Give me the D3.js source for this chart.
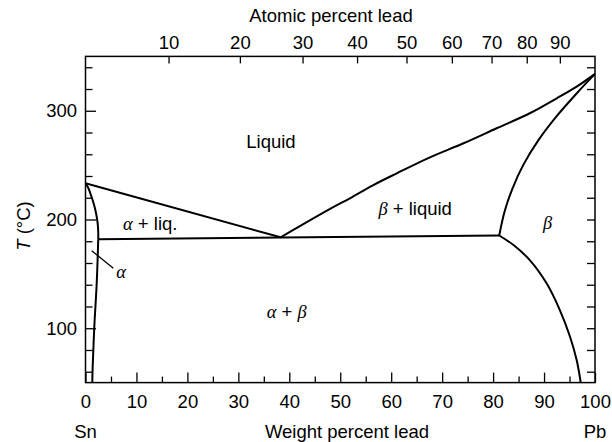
<!DOCTYPE html>
<html>
<head>
<meta charset="utf-8">
<script src="https://cdn.jsdelivr.net/npm/d3@7"></script>
<style>
  html, body { margin: 0; padding: 0; background: #fff; }
  svg { display: block; }
  text { font-family: "Liberation Sans", Arial, Helvetica, sans-serif; fill: #000; }
  .greek { font-family: "Liberation Serif", "Times New Roman", serif; font-style: italic; }
</style>
</head>
<body>
<svg id="chart" width="612" height="442"></svg>
<script>
// Sn–Pb phase diagram: temperature (°C) against composition (wt% Pb)

// phase boundaries, [wt% Pb, T °C]
const liquidusSn = [[0, 233.3], [38.3, 183.6]];
const liquidusPb = [[38.3, 183.6], [48.0, 209.7], [51.9, 219.5], [56.5, 231.7], [61.1, 242.5],
  [67.6, 257.2], [74.2, 270.1], [80.7, 283.9], [87.2, 297.7], [92.5, 311.5], [96.4, 322.2], [100, 333.9]];
const solidusAlpha = [[0, 233.3], [0.55, 229], [1.1, 222], [1.65, 214], [2.1, 205], [2.4, 196], [2.5, 188], [2.5, 181.8]];
const solvusAlpha = [[2.5, 181.8], [2.2, 141.3], [1.73, 101.4], [1.41, 64.6], [1.33, 50]];
const solidusBeta = [[81.2, 185.3], [82.3, 208], [83.8, 228.5], [85.9, 250], [88.9, 273], [92.4, 294.6], [96.8, 318], [100, 333.9]];
const solvusBeta = [[81.2, 185.3], [84.0, 176.5], [87.2, 162.7], [90.5, 141.3], [93.1, 116.7], [95.1, 92.2], [96.4, 70.7], [97.2, 50]];
const eutecticLine = [[2.5, 181.8], [81.2, 185.3]];
const alphaLeader = [[1.22, 171.3], [5.46, 155.1]];

// axes
const weightMajor = [0, 10, 20, 30, 40, 50, 60, 70, 80, 90, 100];
const weightMinor = [5, 15, 25, 35, 45, 55, 65, 75, 85, 95];
const atomicTicks = [10, 20, 30, 40, 50, 60, 70, 80, 90];
const atomicTickWt = [16.3, 30.3, 42.6, 53.3, 63.0, 71.9, 79.7, 86.6, 93.1];
const tempMajor = [100, 200, 300];
const tempAll = [60, 80, 100, 120, 140, 160, 180, 200, 220, 240, 260, 280, 300, 320, 340];

// region labels, baseline at [wt% Pb, T °C]
const regionLabels = [
  { parts: [["Liquid", false]], at: [36.4, 266] },
  { parts: [["α", true], [" + liq.", false]], at: [12.7, 190.5] },
  { parts: [["β", true], [" + liquid", false]], at: [64.7, 204] },
  { parts: [["β", true]], at: [90.7, 191] },
  { parts: [["α", true], [" + ", false], ["β", true]], at: [39.5, 109] },
  { parts: [["α", true]], at: [7.0, 146] }
];

const svg = d3.select("#chart");
const x = d3.scaleLinear().domain([0, 100]).range([85.5, 595]);
const y = d3.scaleLinear().domain([50, 350]).range([382.6, 56.4]);
const FS = 18.5;

const [x0, x1] = x.range();
const [y0, y1] = [y(350), y(50)];

svg.append("clipPath").attr("id", "plot")
  .append("rect").attr("x", x0).attr("y", y0).attr("width", x1 - x0).attr("height", y1 - y0);

// ticks
function styleAxis(g, showText) {
  g.select(".domain").remove();
  g.selectAll("line").attr("stroke", "#000").attr("stroke-width", 1.3);
  g.selectAll("text").style("font-size", FS + "px").attr("fill", "#000");
  if (!showText) g.selectAll("text").remove();
}

svg.append("g").attr("transform", `translate(0,${y1})`)
  .call(d3.axisBottom(x).tickValues(weightMinor).tickSizeInner(-6).tickSizeOuter(0).tickFormat(""))
  .call(g => styleAxis(g, false));
svg.append("g").attr("transform", `translate(0,${y1})`)
  .call(d3.axisBottom(x).tickValues(weightMajor).tickSizeInner(-10).tickSizeOuter(0).tickPadding(12.5).tickFormat(d3.format("d")))
  .call(g => styleAxis(g, true));

const atomicLabel = new Map(atomicTickWt.map((w, i) => [w, atomicTicks[i]]));
svg.append("g").attr("transform", `translate(0,${y0})`)
  .call(d3.axisTop(x).tickValues(atomicTickWt).tickSizeInner(-7).tickSizeOuter(0).tickPadding(7)
    .tickFormat(d => atomicLabel.get(d)))
  .call(g => styleAxis(g, true));

svg.append("g").attr("transform", `translate(${x0},0)`)
  .call(d3.axisLeft(y).tickValues(tempAll.filter(t => !tempMajor.includes(t))).tickSizeInner(-7).tickSizeOuter(0).tickFormat(""))
  .call(g => styleAxis(g, false));
svg.append("g").attr("transform", `translate(${x0},0)`)
  .call(d3.axisLeft(y).tickValues(tempMajor).tickSizeInner(-10.5).tickSizeOuter(0).tickPadding(8.5).tickFormat(d3.format("d")))
  .call(g => styleAxis(g, true));
svg.append("g").attr("transform", `translate(${x1},0)`)
  .call(d3.axisRight(y).tickValues(tempAll).tickSizeInner(-8).tickSizeOuter(0).tickFormat(""))
  .call(g => styleAxis(g, false));

// frame
svg.append("rect").attr("x", x0).attr("y", y0).attr("width", x1 - x0).attr("height", y1 - y0)
  .attr("fill", "none").attr("stroke", "#000").attr("stroke-width", 1.5);

// phase boundaries
const smooth = d3.line().x(d => x(d[0])).y(d => y(d[1])).curve(d3.curveCatmullRom.alpha(0.5));
const straight = d3.line().x(d => x(d[0])).y(d => y(d[1]));
const curves = svg.append("g").attr("clip-path", "url(#plot)")
  .attr("fill", "none").attr("stroke", "#000").attr("stroke-width", 2).attr("stroke-linejoin", "round");
curves.append("path").attr("d", straight(liquidusSn));
curves.append("path").attr("d", smooth(liquidusPb));
curves.append("path").attr("d", smooth(solidusAlpha));
curves.append("path").attr("d", smooth(solvusAlpha));
curves.append("path").attr("d", smooth(solidusBeta));
curves.append("path").attr("d", smooth(solvusBeta));
curves.append("path").attr("d", straight(eutecticLine));
curves.append("path").attr("d", straight(alphaLeader)).attr("stroke-width", 1.3);

// region labels
regionLabels.forEach(l => {
  const t = svg.append("text").attr("x", x(l.at[0])).attr("y", y(l.at[1]))
    .attr("text-anchor", "middle").style("font-size", FS + "px");
  l.parts.forEach(([s, greek]) => {
    const ts = t.append("tspan").text(s);
    if (greek) ts.attr("class", "greek");
  });
});

// axis titles
svg.append("text").attr("x", 331).attr("y", 21.5).attr("text-anchor", "middle")
  .style("font-size", FS + "px").text("Atomic percent lead");
svg.append("text").attr("x", 347).attr("y", 438).attr("text-anchor", "middle")
  .style("font-size", FS + "px").text("Weight percent lead");
svg.append("text").attr("x", x(0)).attr("y", 438).attr("text-anchor", "middle")
  .style("font-size", FS + "px").text("Sn");
svg.append("text").attr("x", x(100)).attr("y", 438).attr("text-anchor", "middle")
  .style("font-size", FS + "px").text("Pb");
const yt = svg.append("text").attr("transform", "translate(30,226) rotate(-90)")
  .attr("text-anchor", "middle").style("font-size", FS + "px");
yt.append("tspan").style("font-style", "italic").text("T");
yt.append("tspan").text(" (°C)");
</script>
</body>
</html>
